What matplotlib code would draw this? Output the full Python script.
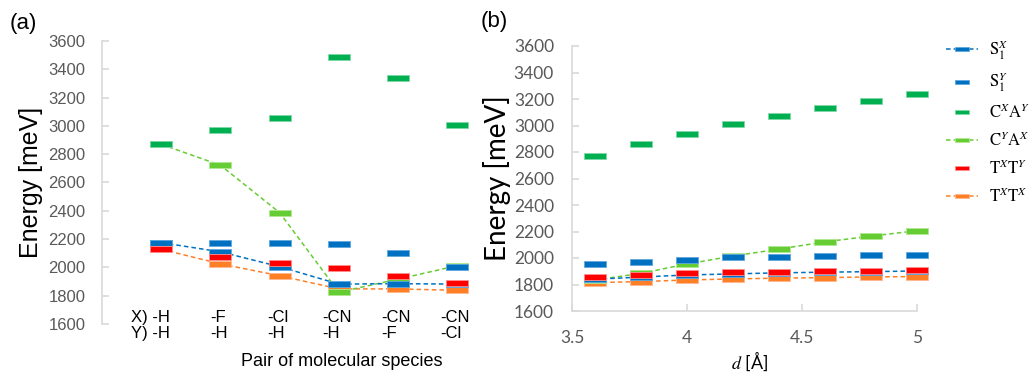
import matplotlib
matplotlib.use("Agg")
import matplotlib.pyplot as plt
from matplotlib.path import Path
from matplotlib.lines import Line2D

# ---------------- data ----------------
pairs_x = ["X) -H", "-F", "-Cl", "-CN", "-CN", "-CN"]
pairs_y = ["Y) -H", "-H", "-H", "-H", "-F", "-Cl"]

a_S1X  = [2175, 2110, 2005, 1882, 1885, 1882]
a_S1Y  = [2175, 2175, 2170, 2165, 2100, 2003]
a_CXAY = [2870, 2970, 3055, 3490, 3342, 3005]
a_CYAX = [2870, 2722, 2387, 1825, 1917, 2012]
a_TXTY = [2130, 2077, 2028, 1995, 1938, 1893]
a_TXTX = [2128, 2025, 1941, 1848, 1848, 1838]

d_vals = [3.6, 3.8, 4.0, 4.2, 4.4, 4.6, 4.8, 5.0]
b_S1X  = [1840, 1856, 1872, 1880, 1888, 1893, 1897, 1902]
b_S1Y  = [1952, 1972, 1988, 2004, 2010, 2015, 2020, 2025]
b_CXAY = [2771, 2857, 2935, 3010, 3075, 3135, 3188, 3240]
b_CYAX = [1834, 1884, 1955, 2015, 2067, 2122, 2165, 2206]
b_TXTY = [1859, 1873, 1884, 1892, 1898, 1903, 1905, 1910]
b_TXTX = [1814, 1822, 1834, 1842, 1848, 1852, 1857, 1860]

series_labels = [r"$\mathrm{S}_1^X$", r"$\mathrm{S}_1^Y$", r"$\mathrm{C}^X\mathrm{A}^Y$",
                 r"$\mathrm{C}^Y\mathrm{A}^X$", r"$\mathrm{T}^X\mathrm{T}^Y$", r"$\mathrm{T}^X\mathrm{T}^X$"]
colors = ["#0070C0", "#0070C0", "#00B050", "#66CC33", "#FF0000", "#FF7F27"]
edge_colors = ["#5FA8E0", "#5FA8E0", "#7FD8A7", "#B0E890", "#FF9090", "#FFB890"]
has_line = [True, False, False, True, False, True]
zorders = [3.2, 3.0, 3.4, 2.6, 3.3, 2.4]

# ---------------- style ----------------
plt.rcParams['mathtext.fontset'] = 'stix'
bar = Path([(-1, -0.23), (1, -0.23), (1, 0.23), (-1, 0.23), (-1, -0.23)],
           [Path.MOVETO, Path.LINETO, Path.LINETO, Path.LINETO, Path.CLOSEPOLY])
MS = 16
dash = (0, (3, 2))
grey = "#595959"
spine_c = "#D9D9D9"

fig = plt.figure(figsize=(10.34, 3.73), dpi=100)
W, H = 1034, 373

def px_axes(l, t, r, b):
    return fig.add_axes([l / W, 1 - b / H, (r - l) / W, (b - t) / H])

# ---------------- panel (a) ----------------
axa = px_axes(102, 41, 475, 324)
xa = list(range(len(pairs_x)))
data_a = [a_S1X, a_S1Y, a_CXAY, a_CYAX, a_TXTY, a_TXTX]
for vals, c, ec, ln, z in zip(data_a, colors, edge_colors, has_line, zorders):
    axa.plot(xa, vals, linestyle=dash if ln else 'none', color=c, lw=1.1,
             marker=bar, markersize=MS, markerfacecolor=c, markeredgecolor=ec,
             markeredgewidth=0.6, clip_on=False, zorder=z)
axa.set_xlim(-1, 5.3)
axa.set_ylim(1600, 3600)
axa.set_yticks(range(1600, 3601, 200))
axa.set_xticks([])
for s in ['top', 'right', 'bottom']:
    axa.spines[s].set_visible(False)
axa.spines['left'].set_color(spine_c)
axa.spines['left'].set_linewidth(1.2)
axa.tick_params(axis='y', direction='in', length=5, color=spine_c, width=1.2,
                labelsize=12, labelcolor=grey, pad=12)
for t in axa.get_yticklabels():
    t.set_fontfamily('Liberation Sans')
for i, (lx, ly) in enumerate(zip(pairs_x, pairs_y)):
    xpos = -0.18 if i == 0 else i - 0.03
    axa.text(xpos, 1588, lx + "\n" + ly, ha='center', va='center', multialignment='left',
             fontsize=12, family='Liberation Sans', color='black', linespacing=1.05,
             clip_on=False)
axa.set_ylabel("Energy [meV]", fontsize=18, family='Liberation Sans', labelpad=4)
fig.text(342 / W, 1 - 362 / H, "Pair of molecular species", ha='center', va='center',
         fontsize=13, family='Liberation Sans')
fig.text(10 / W, 1 - 24 / H, "(a)", ha='left', va='center', fontsize=16,
         family='Liberation Sans')

# ---------------- panel (b) ----------------
axb = px_axes(572, 46, 917, 311)
data_b = [b_S1X, b_S1Y, b_CXAY, b_CYAX, b_TXTY, b_TXTX]
for vals, c, ec, ln, z in zip(data_b, colors, edge_colors, has_line, zorders):
    axb.plot(d_vals, vals, linestyle=dash if ln else 'none', color=c, lw=1.1,
             marker=bar, markersize=MS, markerfacecolor=c, markeredgecolor=ec,
             markeredgewidth=0.6, clip_on=False, zorder=z)
axb.set_xlim(3.5, 5.0)
axb.set_ylim(1600, 3600)
axb.set_yticks(range(1600, 3601, 200))
axb.set_xticks([3.5, 4, 4.5, 5])
axb.set_xticklabels(["3.5", "4", "4.5", "5"])
for s in ['top', 'right']:
    axb.spines[s].set_visible(False)
for s in ['left', 'bottom']:
    axb.spines[s].set_color(spine_c)
    axb.spines[s].set_linewidth(1.2)
axb.tick_params(axis='y', direction='in', length=5, color=spine_c, width=1.2,
                labelsize=12.5, labelcolor=grey, pad=13)
axb.tick_params(axis='x', direction='in', length=5, color=spine_c, width=1.2,
                labelsize=12.5, labelcolor=grey, pad=14)
for t in axb.get_yticklabels() + axb.get_xticklabels():
    t.set_fontfamily('Lato')
axb.set_ylabel("Energy [meV]", fontsize=20, family='Lato', labelpad=2)
fig.text(750 / W, 1 - 361 / H, r"$d$ [Å]", ha='center', va='center',
         fontsize=13, family='Lato')
fig.text(481 / W, 1 - 22 / H, "(b)", ha='left', va='center', fontsize=16,
         family='Liberation Sans')

# legend
handles = []
for c, ec, ln, lab in zip(colors, edge_colors, has_line, series_labels):
    handles.append(Line2D([], [], linestyle=dash if ln else 'none', color=c, lw=1.1,
                          marker=bar, markersize=10, markerfacecolor=c,
                          markeredgecolor=ec, markeredgewidth=0.6, label=lab))
fig.legend(handles=handles, loc='upper left', bbox_to_anchor=(946 / W, 1 - 38 / H),
           frameon=False, fontsize=12, handlelength=1.9, labelspacing=0.55,
           handletextpad=0.7, borderaxespad=0, borderpad=0)

fig.savefig("out.png", dpi=100)
